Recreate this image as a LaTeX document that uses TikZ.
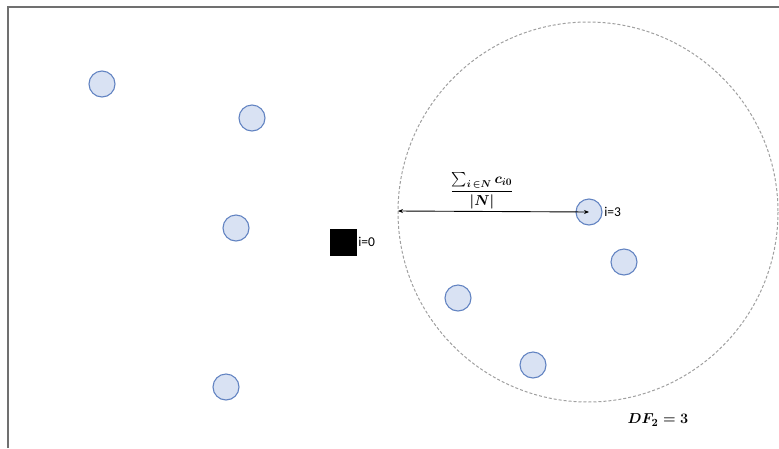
\documentclass[tikz,border=0pt]{standalone}
\usepackage{amsmath}
\usepackage{fontspec}
\setmainfont{Carlito}
\usetikzlibrary{arrows.meta}
\definecolor{nodefill}{HTML}{D9E2F3}
\definecolor{nodeedge}{HTML}{6384C2}
\definecolor{framegray}{HTML}{707070}
\definecolor{dashgray}{HTML}{A0A0A0}
\tikzset{
  cust/.style={circle,draw=nodeedge,fill=nodefill,line width=1.1pt,minimum size=26pt,inner sep=0pt},
  depot/.style={rectangle,fill=black,minimum size=27pt,inner sep=0pt},
  lbl/.style={font=\fontsize{13.5}{15}\selectfont,inner sep=1.5pt,anchor=west},
}
\begin{document}
\begin{tikzpicture}[x=1pt,y=-1pt]
\useasboundingbox (0,0) rectangle (779,448);
\draw[framegray,line width=1.6pt] (8,448) -- (8,7) -- (779,7);
\draw[dashgray,line width=1pt,dash pattern=on 3pt off 2pt] (588,212) circle (190);
\node[cust] (c1) at (102,84) {};
\node[cust] (c2) at (252,118) {};
\node[cust] (c3) at (236,228) {};
\node[cust] (c4) at (226,387) {};
\node[cust] (c5) at (589,212) {};
\node[cust] (c6) at (624,262) {};
\node[cust] (c7) at (458,298) {};
\node[cust] (c8) at (533,365) {};
\node[depot] (d) at (343,242) {};
\node[lbl] (l0) at (d.east) {i=0};
\node[lbl] (l3) at (c5.east) {i=3};
\coordinate (edge) at (398,211);
\draw[{Stealth[length=5pt,width=4pt]}-{Stealth[length=5pt,width=4pt]},line width=0.9pt] (edge) -- (c5.center);
\node (f) at (482,191) {\fontsize{14}{16}\selectfont$\boldsymbol{\displaystyle\frac{\textstyle\sum_{i\,\in N} c_{i0}}{|N|}}$};
\node (df) at (658,420) {\fontsize{15}{17}\selectfont$\boldsymbol{DF_2=3}$};
\end{tikzpicture}
\end{document}
